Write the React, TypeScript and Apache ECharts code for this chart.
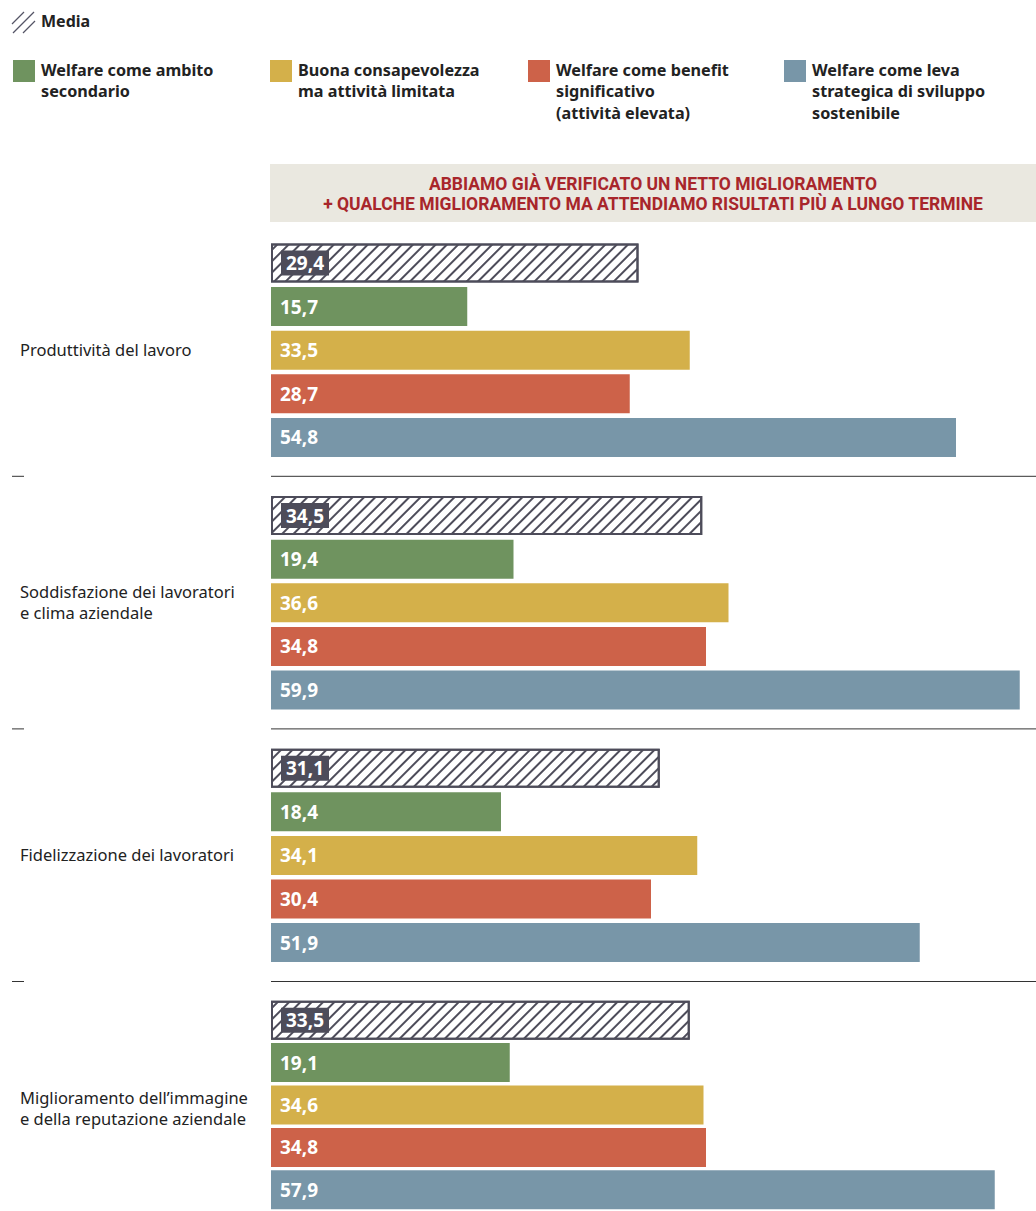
import React, { useEffect, useRef } from "react";
import * as echarts from "echarts";

const categories = [
  "Produttività del lavoro",
  "Soddisfazione dei lavoratori\ne clima aziendale",
  "Fidelizzazione dei lavoratori",
  "Miglioramento dell’immagine\ne della reputazione aziendale",
];
const seriesNames = [
  "Media",
  "Welfare come ambito\nsecondario",
  "Buona consapevolezza\nma attività limitata",
  "Welfare come benefit\nsignificativo\n(attività elevata)",
  "Welfare come leva\nstrategica di sviluppo\nsostenibile",
];
const media = [29.4, 34.5, 31.1, 33.5];
const secondario = [15.7, 19.4, 18.4, 19.1];
const limitata = [33.5, 36.6, 34.1, 34.6];
const significativo = [28.7, 34.8, 30.4, 34.8];
const strategica = [54.8, 59.9, 51.9, 57.9];
const bannerLines = [
  "ABBIAMO GIÀ VERIFICATO UN NETTO MIGLIORAMENTO",
  "+ QUALCHE MIGLIORAMENTO MA ATTENDIAMO RISULTATI PIÙ A LUNGO TERMINE",
];

const COLORS = ["#ffffff", "#6f935f", "#d4b04a", "#cd6249", "#7896a8"];
const DARK = "#4d4c5a";
const FONT = "'Noto Sans', 'Open Sans', sans-serif";

const W = 1036;
const H = 1211;
const GRID_LEFT = 271;
const GROUP_TOP0 = 241.2;
const GROUP_PITCH = 252.6;
const GROUP_H = 218;
const XMAX = 61.2;

const fmt = (v: number) => v.toFixed(1).replace(".", ",");

export default function App() {
  const ref = useRef<HTMLDivElement>(null);
  useEffect(() => {
    if (!ref.current) return;
    const chart = echarts.init(ref.current, undefined, { renderer: "svg" });
    const allSeries = [media, secondario, limitata, significativo, strategica];

    const grids: any[] = [];
    const xAxes: any[] = [];
    const yAxes: any[] = [];
    const series: any[] = [];
    const graphics: any[] = [];

    categories.forEach((cat, g) => {
      const top = GROUP_TOP0 + g * GROUP_PITCH;
      grids.push({ left: GRID_LEFT, width: W - GRID_LEFT, top, height: GROUP_H });
      xAxes.push({
        gridIndex: g, type: "value", min: 0, max: XMAX,
        show: false,
      });
      yAxes.push({
        gridIndex: g, type: "category", inverse: true,
        data: seriesNames, show: false,
      });
      series.push({
        type: "bar",
        xAxisIndex: g,
        yAxisIndex: g,
        barWidth: 39,
        data: allSeries.map((arr, i) => {
          const v = arr[g];
          if (i === 0) {
            return {
              value: v,
              itemStyle: {
                color: "#ffffff",
                borderColor: DARK,
                borderWidth: 2,
                decal: {
                  symbol: "rect",
                  symbolSize: 1,
                  color: DARK,
                  backgroundColor: "#ffffff",
                  dashArrayX: [1, 0],
                  dashArrayY: [1.1, 6],
                  rotation: -Math.PI / 4,
                },
              },
              label: {
                backgroundColor: DARK,
                padding: [4, 5, 2, 5],
                distance: 10,
              },
            };
          }
          return { value: v, itemStyle: { color: COLORS[i] } };
        }),
        label: {
          show: true,
          position: "insideLeft",
          distance: 9,
          color: "#ffffff",
          fontFamily: FONT,
          fontWeight: "bold",
          fontSize: 19,
          formatter: (p: any) => fmt(p.value),
        },
      });
      // category label
      graphics.push({
        type: "text",
        left: 20,
        top: top + GROUP_H / 2 - (cat.includes("\n") ? 21 : 10.5) - 0.5,
        style: {
          text: cat,
          font: `16.5px ${FONT}`,
          fill: "#222222",
          lineHeight: 21,
        },
      });
      // separators
      if (g > 0) {
        const y = top - 17.5;
        graphics.push({
          type: "line",
          shape: { x1: GRID_LEFT, y1: y, x2: W, y2: y },
          style: { stroke: "#333333", lineWidth: 1 },
        });
        graphics.push({
          type: "line",
          shape: { x1: 12, y1: y, x2: 24, y2: y },
          style: { stroke: "#333333", lineWidth: 1 },
        });
      }
    });

    // Media legend icon
    const hatch = [
      [12, 24, 24, 12],
      [13, 33, 34, 12],
      [23, 33, 35, 21],
    ];
    hatch.forEach(([x1, y1, x2, y2]) =>
      graphics.push({
        type: "line",
        shape: { x1, y1, x2, y2 },
        style: { stroke: "#555566", lineWidth: 1.2 },
      })
    );
    graphics.push({
      type: "text",
      left: 41,
      top: 13,
      style: { text: seriesNames[0], font: `bold 16px ${FONT}`, fill: "#222222" },
    });

    const legendX = [13, 270, 528, 784];
    for (let i = 1; i < 5; i++) {
      const x = legendX[i - 1];
      graphics.push({
        type: "rect",
        shape: { x, y: 60, width: 22, height: 22 },
        style: { fill: COLORS[i] },
      });
      graphics.push({
        type: "text",
        left: x + 28,
        top: 59,
        style: {
          text: seriesNames[i],
          font: `bold 16.2px ${FONT}`,
          fill: "#222222",
          lineHeight: 21.5,
        },
      });
    }

    // banner
    graphics.push({
      type: "rect",
      shape: { x: 270, y: 164, width: W - 270, height: 58 },
      style: { fill: "#eae8e0" },
    });
    graphics.push({
      type: "text",
      x: (270 + W) / 2,
      y: 194,
      style: {
        text: bannerLines.join("\n"),
        font: `bold 17.5px Roboto, sans-serif`,
        fill: "#a8262b",
        align: "center",
        verticalAlign: "middle",
        lineHeight: 20.5,
      },
    });

    chart.setOption({
      animation: false,
      backgroundColor: "#ffffff",
      grid: grids,
      xAxis: xAxes,
      yAxis: yAxes,
      series,
      graphic: graphics,
    });
    return () => chart.dispose();
  }, []);
  return (
    <div
      ref={ref}
      style={{ position: "absolute", left: 0, top: 0, width: W, height: H }}
    />
  );
}
